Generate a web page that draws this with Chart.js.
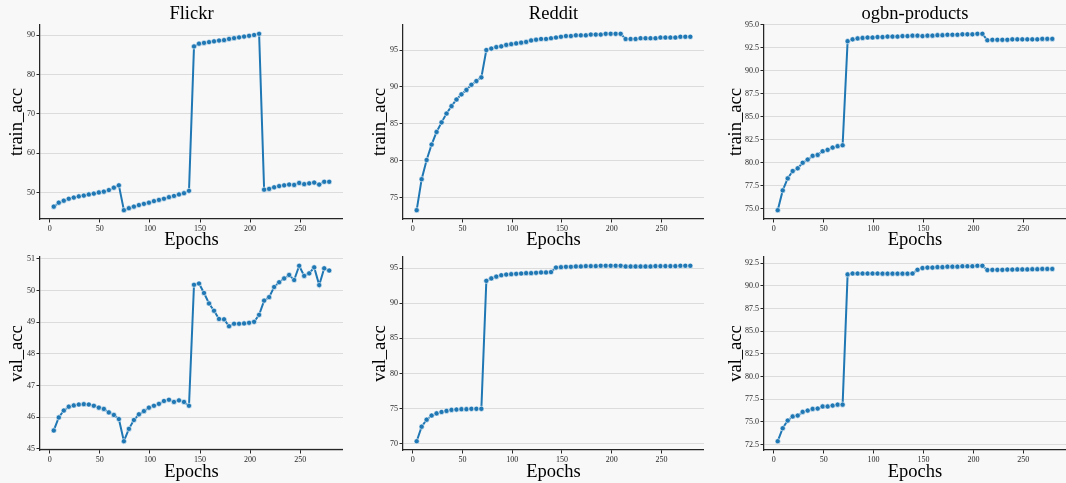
<!DOCTYPE html>
<html>
<head>
<meta charset="utf-8">
<script src="https://cdn.jsdelivr.net/npm/chart.js@4.4.1/dist/chart.umd.min.js"></script>
<style>
  body { margin: 0; background: #f8f8f8; }
  #fig { position: relative; width: 1066px; height: 483px; overflow: hidden; background: #f8f8f8; }
  canvas { position: absolute; }
</style>
</head>
<body>
<div id="fig">
  <canvas id="c1" width="343" height="251" style="left:0px;top:0px"></canvas>
  <canvas id="c2" width="341" height="251" style="left:363px;top:0px"></canvas>
  <canvas id="c3" width="347" height="251" style="left:719px;top:0px"></canvas>
  <canvas id="c4" width="343" height="243" style="left:0px;top:240px"></canvas>
  <canvas id="c5" width="341" height="243" style="left:363px;top:240px"></canvas>
  <canvas id="c6" width="347" height="243" style="left:719px;top:240px"></canvas>
</div>
<script>
// epochs at which the accuracy was logged
const epochs = [4, 9, 14, 19, 24, 29, 34, 39, 44, 49, 54, 59, 64, 69,
  74, 79, 84, 89, 94, 99, 104, 109, 114, 119, 124, 129, 134, 139,
  144, 149, 154, 159, 164, 169, 174, 179, 184, 189, 194, 199, 204, 209,
  214, 219, 224, 229, 234, 239, 244, 249, 254, 259, 264, 269, 274, 279];

const flickrTrain = [46.5, 47.5, 48.0, 48.5, 48.8, 49.1, 49.3, 49.6, 49.8, 50.1, 50.3, 50.7, 51.3, 51.9,
  45.6, 46.1, 46.5, 46.9, 47.2, 47.5, 47.9, 48.2, 48.5, 48.9, 49.2, 49.6, 49.9, 50.5,
  87.1, 87.8, 88.0, 88.2, 88.4, 88.6, 88.7, 89.0, 89.2, 89.4, 89.6, 89.8, 90.0, 90.3,
  50.8, 51.0, 51.4, 51.7, 51.9, 52.1, 52.0, 52.5, 52.2, 52.4, 52.6, 52.1, 52.8, 52.8];

const redditTrain = [73.3, 77.5, 80.1, 82.2, 83.9, 85.2, 86.4, 87.4, 88.3, 89.0, 89.6, 90.3, 90.8, 91.3,
  95.0, 95.2, 95.4, 95.5, 95.7, 95.8, 95.9, 96.0, 96.1, 96.3, 96.4, 96.5, 96.5, 96.6,
  96.7, 96.8, 96.9, 96.9, 97.0, 97.0, 97.0, 97.1, 97.1, 97.1, 97.2, 97.2, 97.2, 97.2,
  96.5, 96.5, 96.5, 96.6, 96.6, 96.6, 96.6, 96.7, 96.7, 96.7, 96.7, 96.8, 96.8, 96.8];

const ogbnTrain = [74.85, 77.0, 78.3, 79.1, 79.4, 80.0, 80.35, 80.75, 80.85, 81.25, 81.4, 81.65, 81.8, 81.9,
  93.2, 93.4, 93.5, 93.55, 93.6, 93.6, 93.65, 93.65, 93.7, 93.7, 93.7, 93.75, 93.75, 93.8,
  93.8, 93.75, 93.8, 93.8, 93.85, 93.85, 93.9, 93.9, 93.9, 93.95, 93.95, 93.95, 94.0, 94.0,
  93.3, 93.35, 93.35, 93.35, 93.35, 93.4, 93.4, 93.4, 93.4, 93.4, 93.4, 93.45, 93.45, 93.45];

const flickrVal = [45.58, 45.99, 46.21, 46.33, 46.37, 46.40, 46.41, 46.40, 46.36, 46.30, 46.26, 46.15, 46.07, 45.94,
  45.24, 45.63, 45.91, 46.09, 46.19, 46.30, 46.36, 46.42, 46.51, 46.55, 46.48, 46.53, 46.48, 46.36,
  50.18, 50.22, 49.92, 49.59, 49.36, 49.10, 49.09, 48.87, 48.95, 48.95, 48.96, 48.98, 49.01, 49.23,
  49.68, 49.79, 50.11, 50.26, 50.38, 50.49, 50.33, 50.78, 50.46, 50.54, 50.73, 50.17, 50.70, 50.63];

const redditVal = [70.33, 72.4, 73.4, 74.0, 74.3, 74.5, 74.65, 74.8, 74.85, 74.9, 74.9, 74.95, 74.95, 74.95,
  93.2, 93.55, 93.8, 94.0, 94.1, 94.15, 94.2, 94.25, 94.3, 94.3, 94.35, 94.4, 94.4, 94.45,
  95.1, 95.15, 95.2, 95.2, 95.25, 95.25, 95.3, 95.3, 95.3, 95.35, 95.35, 95.35, 95.35, 95.35,
  95.25, 95.25, 95.25, 95.25, 95.25, 95.25, 95.3, 95.3, 95.3, 95.3, 95.3, 95.35, 95.35, 95.35];

const ogbnVal = [72.87, 74.3, 75.15, 75.6, 75.7, 76.1, 76.25, 76.43, 76.47, 76.7, 76.7, 76.8, 76.9, 76.9,
  91.25, 91.35, 91.35, 91.35, 91.35, 91.35, 91.35, 91.33, 91.33, 91.33, 91.33, 91.33, 91.33, 91.35,
  91.76, 91.95, 92.0, 92.0, 92.05, 92.05, 92.1, 92.1, 92.1, 92.15, 92.15, 92.15, 92.2, 92.2,
  91.73, 91.75, 91.75, 91.75, 91.78, 91.78, 91.8, 91.8, 91.8, 91.82, 91.82, 91.85, 91.85, 91.85];

// tick labels
const xTicks = [0, 50, 100, 150, 200, 250];
const flickrTrainTicks = [50, 60, 70, 80, 90];
const redditTrainTicks = [75, 80, 85, 90, 95];
const ogbnTrainTicks = [75, 77.5, 80, 82.5, 85, 87.5, 90, 92.5, 95];
const flickrValTicks = [45, 46, 47, 48, 49, 50, 51];
const redditValTicks = [70, 75, 80, 85, 90, 95];
const ogbnValTicks = [72.5, 75, 77.5, 80, 82.5, 85, 87.5, 90, 92.5];

const serif = "'Liberation Serif', 'Times New Roman', serif";
const dark = "#262626";

function makePanel(id, values, yTicks, decimals, title, yLabel, topRow, yWidth) {
  const lo = Math.min(...values), hi = Math.max(...values);
  const pad = (hi - lo) * 0.05;
  const xpad = (epochs[epochs.length - 1] - epochs[0]) * 0.05;

  return new Chart(document.getElementById(id), {
    type: "line",
    data: {
      datasets: [{
        data: epochs.map((e, i) => ({ x: e, y: values[i] })),
        borderColor: "#1f77b4",
        borderWidth: 2,
        pointRadius: 2.6,
        pointBackgroundColor: "#1f77b4",
        pointBorderColor: "#ffffff",
        pointBorderWidth: 0.6,
        tension: 0,
      }],
    },
    options: {
      responsive: false,
      animation: false,
      events: [],
      layout: {
        autoPadding: false,
        padding: { top: topRow ? 0 : 17, left: 0, right: 0, bottom: 0 },
      },
      plugins: {
        legend: { display: false },
        tooltip: { enabled: false },
        title: {
          display: topRow,
          text: title,
          fullSize: false,
          color: "#000",
          font: { family: serif, size: 18.5, weight: "normal", lineHeight: "22px" },
          padding: { top: 3, bottom: 0 },
        },
      },
      scales: {
        x: {
          type: "linear",
          min: epochs[0] - xpad,
          max: epochs[epochs.length - 1] + xpad,
          afterBuildTicks: (s) => { s.ticks = xTicks.map((v) => ({ value: v })); },
          afterFit: (s) => {
            s.height = topRow ? 32 : 33;
            s.paddingLeft = 0;
            s.paddingRight = 0;
          },
          ticks: { color: dark, font: { family: serif, size: 8 }, padding: 1.5, maxRotation: 0 },
          grid: { drawOnChartArea: false, tickColor: dark, tickLength: 3.5, tickWidth: 1 },
          border: { display: true, color: dark, width: 1.25 },
          title: {
            display: true, text: "Epochs", color: "#000",
            font: { family: serif, size: 18.5, lineHeight: 1.2 },
            padding: { top: 0, bottom: 0 },
          },
        },
        y: {
          min: lo - pad,
          max: hi + pad,
          afterBuildTicks: (s) => { s.ticks = yTicks.map((v) => ({ value: v })); },
          afterFit: (s) => { s.width = yWidth; },
          ticks: {
            color: dark, font: { family: serif, size: 8 }, padding: 1.5,
            callback: (v) => v.toFixed(decimals),
          },
          grid: { color: "#dcdcdc", lineWidth: 1, tickColor: dark, tickLength: 3.5, tickWidth: 1 },
          border: { display: true, color: dark, width: 1.25 },
          title: {
            display: true, text: yLabel, color: "#000",
            font: { family: serif, size: 18.5, lineHeight: 1.2 },
            padding: { top: 6, bottom: 0 },
          },
        },
      },
    },
  });
}

makePanel("c1", flickrTrain, flickrTrainTicks, 0, "Flickr", "train_acc", true, 40);
makePanel("c2", redditTrain, redditTrainTicks, 0, "Reddit", "train_acc", true, 40);
makePanel("c3", ogbnTrain, ogbnTrainTicks, 1, "ogbn-products", "train_acc", true, 45);
makePanel("c4", flickrVal, flickrValTicks, 0, "Flickr", "val_acc", false, 40);
makePanel("c5", redditVal, redditValTicks, 0, "Reddit", "val_acc", false, 40);
makePanel("c6", ogbnVal, ogbnValTicks, 1, "ogbn-products", "val_acc", false, 45);
</script>
</body>
</html>
